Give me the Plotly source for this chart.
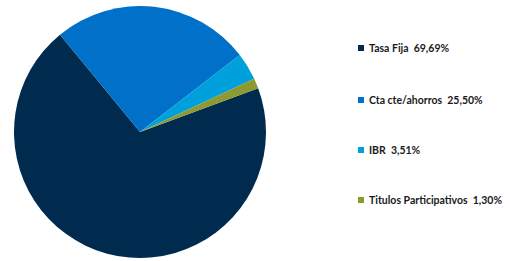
import plotly.graph_objects as go

labels = ["Tasa Fija", "Cta cte/ahorros", "IBR", "Titulos Participativos"]
values = [69.69, 25.50, 3.51, 1.30]
value_text = ["69,69%", "25,50%", "3,51%", "1,30%"]
colors = ["#002B4F", "#0070C8", "#00A0DC", "#8E9A30"]

fig = go.Figure()
fig.add_trace(go.Pie(
    labels=labels, values=values, sort=False, direction="clockwise",
    rotation=69.7, textinfo="none", hoverinfo="label+percent",
    marker=dict(colors=colors, line=dict(width=0)),
    domain=dict(x=[14/510, 266/510], y=[3/261, 255/261]),
    showlegend=False,
))

legend_y = [48, 100, 150, 200]
for lab, vt, col, yy in zip(labels, value_text, colors, legend_y):
    y = 1 - yy/261
    fig.add_shape(type="rect", xref="paper", yref="paper",
                  x0=358/510, x1=364/510, y0=y - 3/261, y1=y + 3/261,
                  fillcolor=col, line=dict(width=0))
    fig.add_annotation(xref="paper", yref="paper", x=367/510, y=y,
                       xanchor="left", yanchor="middle", showarrow=False,
                       text=f"<b>{lab}&nbsp;&nbsp;{vt}</b>",
                       font=dict(family="Lato", size=10.5, color="#1a1a1a"))

fig.update_layout(width=510, height=261, margin=dict(l=0, r=0, t=0, b=0),
                  paper_bgcolor="white", plot_bgcolor="white")
fig.write_html("out.html", config={"displayModeBar": False},
               post_script="document.body.style.margin='0';")
